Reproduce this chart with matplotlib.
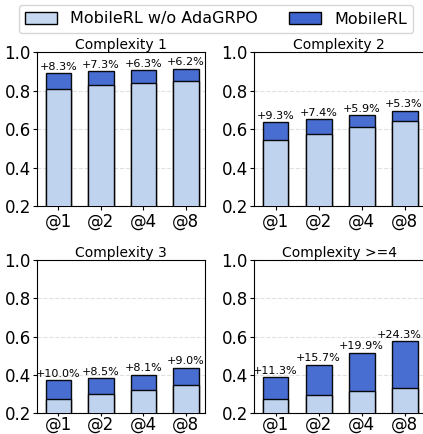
import matplotlib
matplotlib.use("Agg")
import matplotlib.pyplot as plt
import matplotlib.transforms as mtransforms
import numpy as np
from matplotlib.patches import Patch

ks = ["@1", "@2", "@4", "@8"]
titles = ["Complexity 1", "Complexity 2", "Complexity 3", "Complexity >=4"]

# MobileRL w/o AdaGRPO (base) and gain of MobileRL (percentage points)
base_c1 = [0.807, 0.828, 0.842, 0.851]
gain_c1 = [8.3, 7.3, 6.3, 6.2]
base_c2 = [0.542, 0.577, 0.613, 0.641]
gain_c2 = [9.3, 7.4, 5.9, 5.3]
base_c3 = [0.271, 0.297, 0.320, 0.346]
gain_c3 = [10.0, 8.5, 8.1, 9.0]
base_c4 = [0.273, 0.296, 0.315, 0.332]
gain_c4 = [11.3, 15.7, 19.9, 24.3]

bases = [base_c1, base_c2, base_c3, base_c4]
gains = [gain_c1, gain_c2, gain_c3, gain_c4]

LIGHT = "#c6d8f0"
DARK = "#3f66cf"

fig = plt.figure(figsize=(4.23, 4.34), dpi=100)
positions = [
    (0.0875, 0.525, 0.397, 0.355),
    (0.6005, 0.525, 0.402, 0.355),
    (0.0875, 0.0484, 0.397, 0.3525),
    (0.6005, 0.0484, 0.402, 0.3525),
]

labels = []
x = np.arange(len(ks))
for i, (pos, title, base, gain) in enumerate(zip(positions, titles, bases, gains)):
    ax = fig.add_axes(pos)
    base = np.array(base)
    delta = np.array(gain) / 100.0
    total = base + delta
    ax.bar(x, total, width=0.6, color=DARK, edgecolor="black", linewidth=1.0, alpha=0.95, zorder=2)
    ax.bar(x, base, width=0.6, color=LIGHT, edgecolor="black", linewidth=1.0, alpha=0.95, zorder=3)
    for xi, t, g in zip(x, total, gain):
        txt = ax.text(xi, t + 0.008, f"+{g:.1f}%", ha="center", va="bottom", fontsize=8, zorder=4)
        labels.append((ax, txt))
    ax.set_ylim(0.2, 1.0)
    ax.set_xlim(-0.5, 3.45)
    ax.set_yticks([0.2, 0.4, 0.6, 0.8, 1.0])
    ax.set_xticks(x)
    ax.set_xticklabels(ks)
    ax.tick_params(axis="both", labelsize=12, length=3, pad=1.5)
    if i >= 2:
        ax.tick_params(axis="x", length=2.5, pad=-0.5)
    ax.grid(axis="y", linestyle="--", color="#cccccc", alpha=0.6, linewidth=0.8, zorder=0)
    ax.set_axisbelow(True)
    ax.set_title(title, fontsize=10, pad=2)

handles = [
    Patch(facecolor=LIGHT, edgecolor="black", label="MobileRL w/o AdaGRPO"),
    Patch(facecolor=DARK, edgecolor="black", label="MobileRL"),
]
fig.legend(handles=handles, loc="center", bbox_to_anchor=(216 / 423, 1 - 19 / 434),
           ncol=2, fontsize=11.5, frameon=True, borderpad=0.4)

# keep labels near the right edge inside the figure
fig.canvas.draw()
renderer = fig.canvas.get_renderer()
fig_w = fig.bbox.width
for ax, txt in labels:
    bb = txt.get_window_extent(renderer)
    if bb.x1 > fig_w - 1:
        shift = bb.x1 - (fig_w - 1)
        txt.set_transform(ax.transData + mtransforms.ScaledTranslation(-shift / fig.dpi, 0, fig.dpi_scale_trans))

fig.savefig("out.png", dpi=100)
